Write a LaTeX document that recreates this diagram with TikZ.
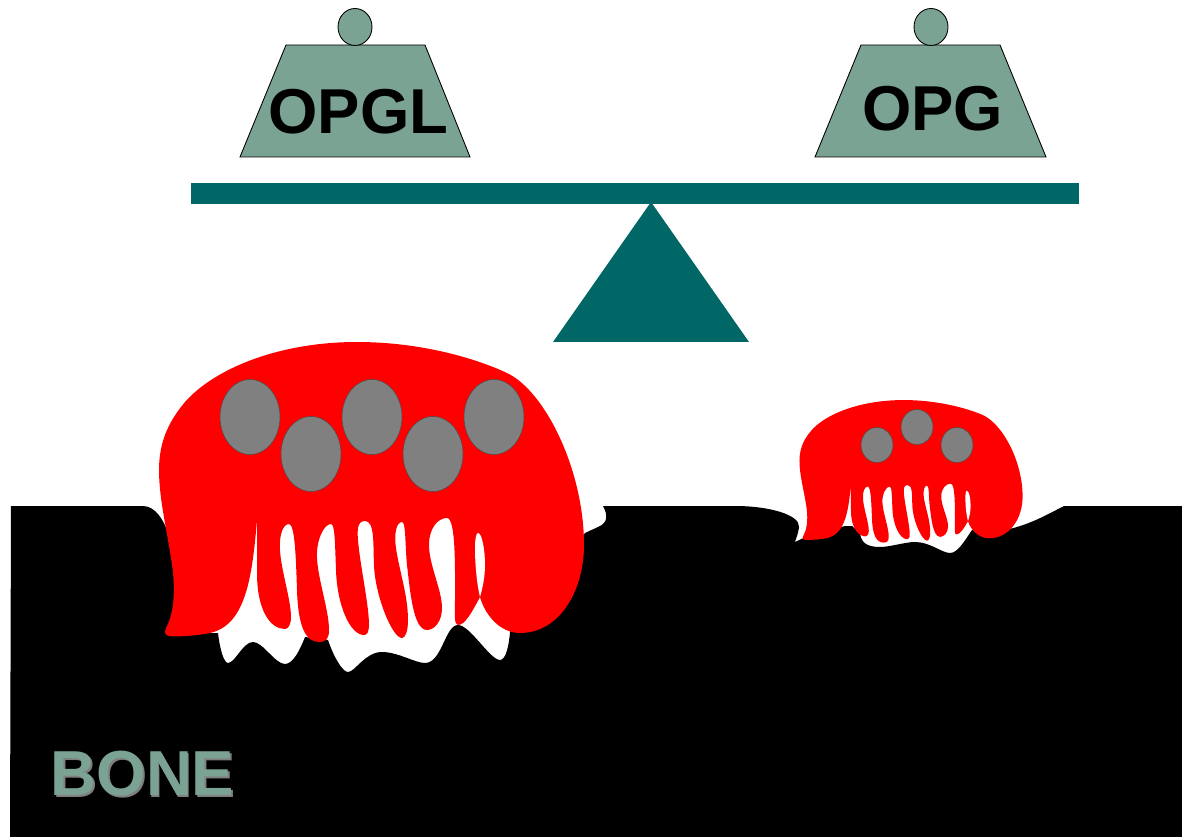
\documentclass[tikz,border=0pt]{standalone}
\usepackage{fontspec}
\setmainfont{Liberation Sans}
\definecolor{weightgreen}{HTML}{7BA393}
\definecolor{beamteal}{HTML}{006666}
\definecolor{nucleusgray}{HTML}{808080}
\tikzset{
  weight/.style={draw=black,line width=.5pt,fill=weightgreen},
  nucleus/.style={draw=black!70,line width=.3pt,fill=nucleusgray},
  weightlabel/.style={font=\fontsize{36.1}{36}\bfseries\selectfont,text=black,inner sep=0pt},
  bonelabel/.style={font=\fontsize{36.2}{36}\bfseries\selectfont,inner sep=0pt},
}
% outline of one cell, drawn in the coordinates of the large one
\newcommand{\cellbody}{%
  \fill[red] (257,520)
    .. controls (252,580) and (245,625) .. (210,633) % left lobe
    .. controls (195,636) and (175,637) .. (169,636)
    .. controls (163,635) and (165,630) .. (167,626)
    .. controls (175,610) and (175,585) .. (172,565)
    .. controls (168,535) and (159,500) .. (159,470)
    .. controls (159,440) and (170,420) .. (185,402)
    .. controls (215,368) and (280,342) .. (357,342) % top
    .. controls (420,342) and (475,358) .. (507,373)
    .. controls (545,391) and (584,470) .. (584,545)
    .. controls (584,590) and (560,633) .. (520,633) % right lobe
    .. controls (500,633) and (485,615) .. (480,597)
    .. controls (472,612) and (465,625) .. (458,625) % ruffled border
    .. controls (454,625) and (455,615) .. (455,600)
    .. controls (455,570) and (456,518) .. (447,518)
    .. controls (438,518) and (429,528) .. (429,545)
    .. controls (429,565) and (442,590) .. (442,608)
    .. controls (442,622) and (434,630) .. (427,630)
    .. controls (413,630) and (410,590) .. (407,565)
    .. controls (405,545) and (406,522) .. (402,522)
    .. controls (396,522) and (394,535) .. (396,548)
    .. controls (399,570) and (408,595) .. (408,620)
    .. controls (408,632) and (405,638) .. (402,638)
    .. controls (392,638) and (375,595) .. (374,565)
    .. controls (373,545) and (375,521) .. (365,521)
    .. controls (358,521) and (357,528) .. (358,540)
    .. controls (360,565) and (369,605) .. (369,625)
    .. controls (369,632) and (367,635) .. (364,635)
    .. controls (350,635) and (337,605) .. (336,570)
    .. controls (335,545) and (335,524) .. (331,524)
    .. controls (324,524) and (316,540) .. (317,558)
    .. controls (318,580) and (329,610) .. (329,630)
    .. controls (329,640) and (325,642) .. (319,642)
    .. controls (305,642) and (298,625) .. (297,590)
    .. controls (296,560) and (295,524) .. (289,524)
    .. controls (283,524) and (279,535) .. (280,550)
    .. controls (281,570) and (291,600) .. (291,617)
    .. controls (291,625) and (288,629) .. (285,629)
    .. controls (270,629) and (257,610) .. (257,573)
    .. controls (257,555) and (257,535) .. (257,520) -- cycle;
  \fill[white] (478,533)
    .. controls (482,533) and (485,550) .. (485,565)
    .. controls (485,578) and (482,590) .. (480,597)
    .. controls (477,585) and (475,565) .. (475,548)
    .. controls (475,540) and (476,533) .. (478,533) -- cycle;
}
\begin{document}
\begin{tikzpicture}[x=.02cm,y=-.02cm]
\useasboundingbox (0,0) rectangle (1182,837);
\fill[white] (0,0) rectangle (1182,837);

% bone with the two resorption pits
\fill[black] (11,506) -- (143,506)
  .. controls (155,506) and (165,520) .. (170,540) -- (210,633) -- (218,633)
  .. controls (220,650) and (224,663) .. (228,663)
  .. controls (235,663) and (243,642) .. (253,642)
  .. controls (263,642) and (275,664) .. (285,664)
  .. controls (293,664) and (300,650) .. (305,637) -- (328,640)
  .. controls (333,655) and (342,672) .. (348,672)
  .. controls (355,672) and (365,652) .. (382,652)
  .. controls (398,652) and (415,663) .. (425,663)
  .. controls (442,663) and (445,625) .. (458,625)
  .. controls (470,625) and (490,660) .. (500,660)
  .. controls (506,660) and (509,645) .. (510,632) -- (585,533) -- (598,527)
  .. controls (608,523) and (608,515) .. (603,506) -- (735,506)
  .. controls (770,506) and (800,515) .. (799,527)
  .. controls (798,535) and (796,538) .. (795,542) -- (810,535) -- (845,526) -- (852,526)
  -- (860,533)
  .. controls (861,542) and (866,547) .. (880,547)
  .. controls (890,547) and (905,542) .. (915,542)
  .. controls (930,542) and (942,553) .. (950,553)
  .. controls (958,553) and (965,540) .. (972,530) -- (1005,530)
  .. controls (1030,525) and (1050,513) .. (1064,506)
  -- (1182,506) -- (1182,837) -- (10,837) -- cycle;

% balance
\fill[beamteal] (191,183) rectangle (1079,204);
\fill[beamteal] (651,202) -- (749,342) -- (553,342) -- cycle;

% left weight
\draw[weight] (286,45) -- (425,45) -- (470,157) -- (240,157) -- cycle;
\draw[weight] (355,27) ellipse (17 and 18.5);
\node[weightlabel] (opgl) at (358.5,112) {OPGL};

% right weight
\draw[weight] (861,45) -- (1000,45) -- (1046,157) -- (815,157) -- cycle;
\draw[weight] (931,27) ellipse (17 and 18.5);
\node[weightlabel] (opg) at (932.5,109) {OPG};

% large cell
\cellbody
\foreach \cx/\cy in {250/417,311/454,372/417,433/454,494/417}
  \draw[nucleus] (\cx,\cy) ellipse (30 and 37.5);

% small cell
\begin{scope}[shift={(716,237.6)},xscale=.525,yscale=.475]
\cellbody
\end{scope}
\foreach \cx/\cy in {877/445,917/427,957/445}
  \draw[nucleus] (\cx,\cy) ellipse (16 and 17.5);

% label on the bone
\node[bonelabel,text=gray] (boneshadow) at (144,776) {BONE};
\node[bonelabel,text=weightgreen] (bone) at (142.5,774) {BONE};
\end{tikzpicture}
\end{document}
